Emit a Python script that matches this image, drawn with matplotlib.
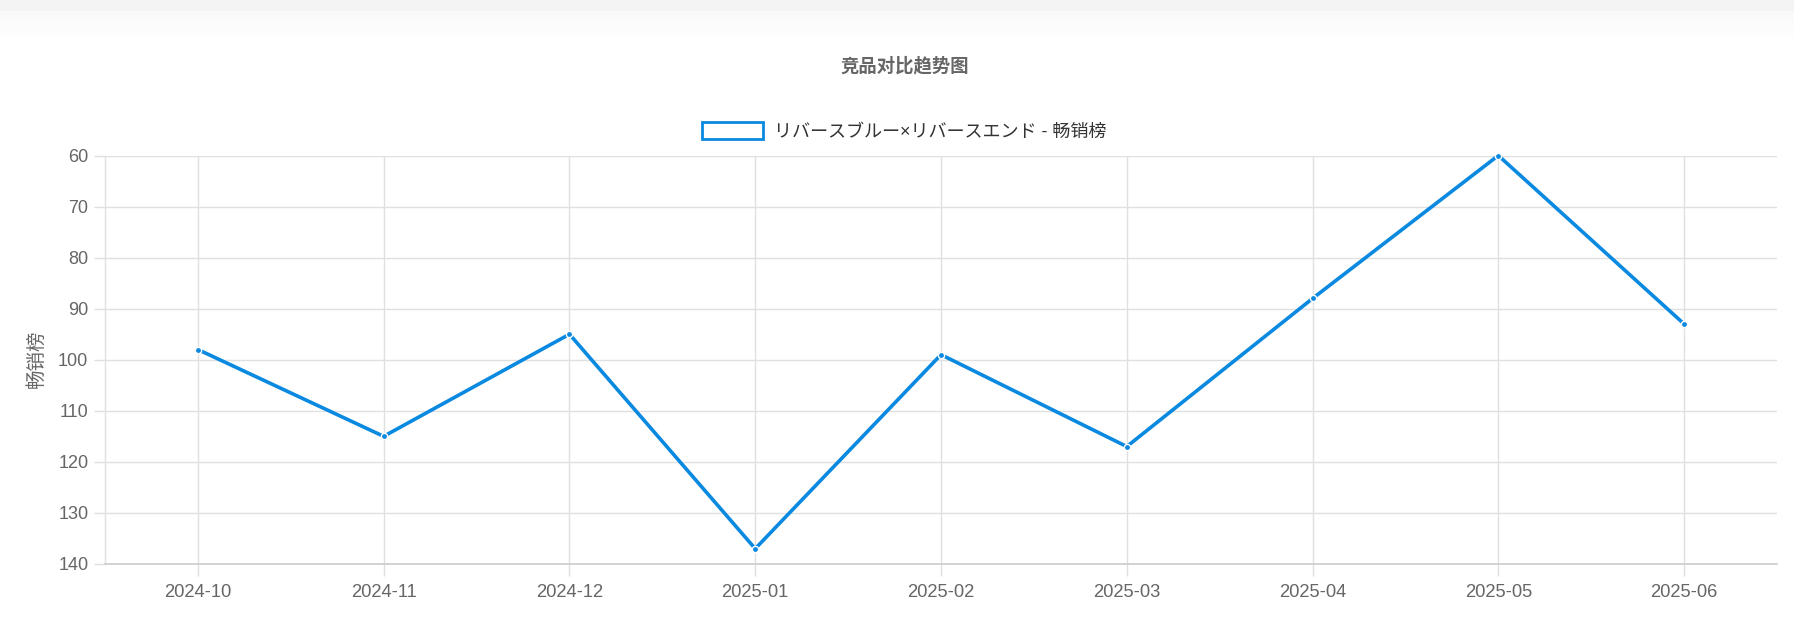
import matplotlib
matplotlib.use("Agg")
import matplotlib.pyplot as plt
import matplotlib.patches as mpatches
import numpy as np

# ---- data ----
months = ["2024-10", "2024-11", "2024-12", "2025-01", "2025-02",
          "2025-03", "2025-04", "2025-05", "2025-06"]
rank_values = [98, 115, 95, 137, 99, 117, 88, 60, 93]
series_name = "リバースブルー×リバースエンド - 畅销榜"
title_text = "竞品对比趋势图"
y_label = "畅销榜"
y_ticks = [60, 70, 80, 90, 100, 110, 120, 130, 140]

LINE_COLOR = "#0a89e0"
GRID_COLOR = "#e0e0e0"
TEXT_GREY = "#666666"
FONTS = ["Liberation Sans", "Noto Sans CJK JP", "DejaVu Sans"]
plt.rcParams["font.family"] = FONTS

W, H = 1794, 636
fig = plt.figure(figsize=(W / 100, H / 100), dpi=100)
fig.patch.set_facecolor("white")

# top grey band with soft gradient
band = fig.add_axes([0, 1 - 42 / H, 1, 42 / H])
band.set_axis_off()
grad = np.ones((42, 1))
grad[:11] = 0.957
g = np.linspace(0.978, 1.0, 31)
grad[11:, 0] = g
band.imshow(np.repeat(grad[:, :, None], 3, axis=2), aspect="auto",
            extent=[0, 1, 0, 1], interpolation="bilinear")

left, right, top, bottom = 105, 1777, 155.5, 564
ax = fig.add_axes([left / W, 1 - bottom / H, (right - left) / W, (bottom - top) / H])

x = np.arange(len(months))
ax.plot(x, rank_values, color=LINE_COLOR, lw=2.6, marker="o", ms=4.5,
        mfc=LINE_COLOR, mec="white", mew=1.0, zorder=3, clip_on=False)

ax.set_xlim(-0.5, len(months) - 0.5)
ax.set_ylim(140, 60)
ax.set_yticks(y_ticks)
ax.set_xticks(x)
ax.set_xticklabels(months)

ax.grid(True, color=GRID_COLOR, lw=1.0)
ax.set_axisbelow(True)
for s in ["top", "right"]:
    ax.spines[s].set_visible(False)
ax.spines["left"].set_color(GRID_COLOR)
ax.spines["bottom"].set_color("#cccccc")
ax.spines["left"].set_linewidth(1.0)
ax.spines["bottom"].set_linewidth(1.2)

ax.tick_params(axis="y", length=8, width=1, color=GRID_COLOR, pad=4,
               labelsize=13, labelcolor=TEXT_GREY)
ax.tick_params(axis="x", length=8.5, width=1, color=GRID_COLOR, pad=6,
               labelsize=13.2, labelcolor=TEXT_GREY)

fig.text(36.7 / W, 1 - 359 / H, y_label, rotation=90, ha="center", va="center",
         fontsize=14, color=TEXT_GREY, family=["Noto Sans CJK SC", "DejaVu Sans"])

fig.text(905 / W, 1 - 65.5 / H, title_text, ha="center", va="center",
         fontsize=13.2, fontweight="bold", color=TEXT_GREY,
         family=["Noto Sans CJK SC", "DejaVu Sans"])

handle = mpatches.Patch(facecolor="white", edgecolor=LINE_COLOR, linewidth=2.0,
                        label=series_name)
leg = fig.legend(handles=[handle], loc="center",
                 bbox_to_anchor=(904 / W, 1 - 131.7 / H),
                 frameon=False, handlelength=3.4, handleheight=1.05,
                 handletextpad=0.6, borderpad=0, borderaxespad=0,
                 prop={"family": ["Liberation Sans", "Noto Sans CJK JP"], "size": 13})
for t in leg.get_texts():
    t.set_color("#333333")

fig.savefig("out.png", dpi=100, facecolor="white")
